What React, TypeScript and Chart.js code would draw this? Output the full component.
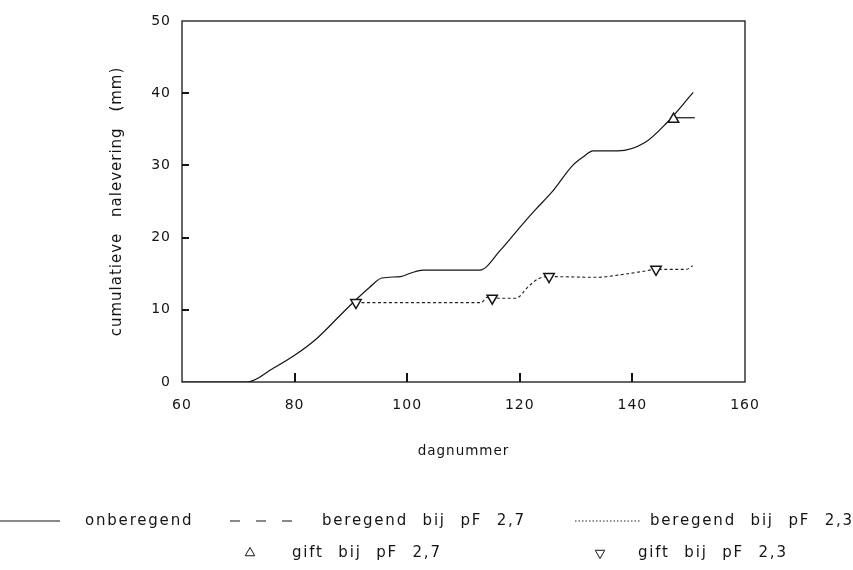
import { useEffect, useRef } from 'react';
import { Chart, registerables } from 'chart.js';
import { drawPoint } from 'chart.js/helpers';

Chart.register(...registerables);

// ---- data ----
const xTickStep = 20;
const yTickStep = 10;
const xMin = 60;
const xMax = 160;
const yMin = 0;
const yMax = 50;

const onberegendDag = [60, 71.6, 76.2, 80.0, 83.9, 87.8, 90.9, 93.3, 95.5, 98.8, 100.7, 102.8, 112.9, 116.6, 120.2, 122.7, 125.8, 129.4, 131.3, 133.0, 137.4, 142.3, 146.0, 150.8];
const onberegendMm = [0, 0, 1.9, 3.7, 6.0, 9.0, 11.4, 13.1, 14.4, 14.6, 15.1, 15.5, 15.5, 18.3, 21.6, 23.8, 26.4, 30.0, 31.2, 32.0, 32.0, 33.2, 35.8, 40.1];

const pF27Dag = [147.3, 151.1];
const pF27Mm = [36.6, 36.6];

const pF23Dag = [90.9, 113.2, 114.1, 115.1, 119.3, 121.5, 123.3, 125.2, 133.7, 137.4, 141.7, 144.2, 149.6, 150.7];
const pF23Mm = [11.0, 11.0, 11.7, 11.6, 11.6, 13.2, 14.3, 14.6, 14.5, 14.8, 15.3, 15.6, 15.6, 16.1];

const gift27Dag = [147.3];
const gift27Mm = [36.4];
const gift23Dag = [90.9, 115.1, 125.2, 144.2];
const gift23Mm = [11.0, 11.6, 14.6, 15.6];

const seriesLabels = ['onberegend', 'beregend bij pF 2,7', 'beregend bij pF 2,3', 'gift bij pF 2,7', 'gift bij pF 2,3'];
const xTitle = 'dagnummer';
const yTitle = 'cumulatieve nalevering (mm)';

const pts = (xs: number[], ys: number[]) => xs.map((x, i) => ({ x, y: ys[i] }));

const INK = '#141414';
const FONT = 'DejaVu Sans';

// legend layout (drawn below the plot, two rows)
const legendLayout = [
  { ds: 0, kind: 'line', x0: 0, x1: 60, tx: 85, y: 521, dash: [] as number[] },
  { ds: 1, kind: 'line', x0: 230, x1: 292, tx: 322, y: 521, dash: [10, 16] },
  { ds: 2, kind: 'line', x0: 575, x1: 640, tx: 650, y: 521, dash: [1.5, 2] },
  { ds: 3, kind: 'point', cx: 250, tx: 292, y: 553, dash: [] as number[] },
  { ds: 4, kind: 'point', cx: 600, tx: 638, y: 553, dash: [] as number[] },
];

const decorPlugin = {
  id: 'decor',
  beforeDraw(chart: any) {
    const ctx = chart.ctx as any;
    ctx.letterSpacing = '1px';
    ctx.wordSpacing = '10px';
  },
  afterDraw(chart: any) {
    const ctx = chart.ctx as any;
    const { left, right, top, bottom } = chart.chartArea;
    ctx.save();
    ctx.setLineDash([]);
    ctx.strokeStyle = INK;
    ctx.lineWidth = 1.3;
    ctx.strokeRect(left, top, right - left, bottom - top);
    ctx.restore();

    // inward tick marks, as thin filled rectangles
    ctx.save();
    ctx.fillStyle = INK;
    const xs = chart.scales.x;
    for (let v = xMin + xTickStep; v < xMax; v += xTickStep) {
      const px = Math.round(xs.getPixelForValue(v));
      ctx.fillRect(px - 1, bottom - 9, 2, 9);
    }
    const ys = chart.scales.y;
    for (let v = yMin + yTickStep; v < yMax; v += yTickStep) {
      const py = Math.round(ys.getPixelForValue(v));
      ctx.fillRect(left, py - 1, 7, 2);
    }
    ctx.restore();

    // legend
    ctx.save();
    ctx.letterSpacing = '1.8px';
    ctx.wordSpacing = '8px';
    ctx.font = `15px "${FONT}"`;
    ctx.fillStyle = INK;
    ctx.textBaseline = 'middle';
    ctx.textAlign = 'left';
    legendLayout.forEach((item) => {
      const ds = chart.data.datasets[item.ds];
      if (item.kind === 'line') {
        ctx.save();
        ctx.strokeStyle = ds.borderColor;
        ctx.lineWidth = 1.1;
        ctx.setLineDash(item.dash);
        ctx.beginPath();
        ctx.moveTo(item.x0, item.y);
        ctx.lineTo(item.x1, item.y);
        ctx.stroke();
        ctx.restore();
      } else {
        ctx.save();
        ctx.strokeStyle = ds.borderColor;
        ctx.fillStyle = '#ffffff';
        drawPoint(ctx, { pointStyle: 'triangle', radius: 5.5, rotation: ds.rotation || 0, borderWidth: 1 } as any, item.cx as number, item.y);
        ctx.restore();
      }
      ctx.fillText(ds.label, item.tx as number, item.y);
    });
    ctx.restore();
    ctx.letterSpacing = '0px';
    ctx.wordSpacing = '0px';
  },
};

export default function App() {
  const ref = useRef<HTMLCanvasElement>(null);
  useEffect(() => {
    const canvas = ref.current!;
    const chart = new Chart(canvas, {
      type: 'line',
      data: {
        datasets: [
          {
            label: seriesLabels[0],
            data: pts(onberegendDag, onberegendMm),
            borderColor: INK,
            borderWidth: 1.2,
            pointRadius: 0,
            cubicInterpolationMode: 'monotone',
            order: 1,
          },
          {
            label: seriesLabels[1],
            data: pts(pF27Dag, pF27Mm),
            borderColor: INK,
            borderWidth: 1.2,
            pointRadius: 0,
            order: 1,
          },
          {
            label: seriesLabels[2],
            data: pts(pF23Dag, pF23Mm),
            borderColor: '#222222',
            borderWidth: 1.1,
            borderDash: [3, 2.5],
            pointRadius: 0,
            cubicInterpolationMode: 'monotone',
            order: 1,
          },
          {
            label: seriesLabels[3],
            data: pts(gift27Dag, gift27Mm),
            showLine: false,
            borderColor: INK,
            backgroundColor: '#ffffff',
            pointStyle: 'triangle',
            pointRadius: 6,
            pointBorderWidth: 1.5,
            order: 0,
          },
          {
            label: seriesLabels[4],
            data: pts(gift23Dag, gift23Mm),
            showLine: false,
            borderColor: INK,
            backgroundColor: '#ffffff',
            pointStyle: 'triangle',
            rotation: 180,
            pointRotation: 180,
            pointRadius: 6,
            pointBorderWidth: 1.5,
            order: 0,
          } as any,
        ],
      },
      options: {
        animation: false,
        responsive: false,
        devicePixelRatio: 1,
        events: [],
        layout: { padding: { left: 0, top: 21, right: 108, bottom: 98 } },
        plugins: { legend: { display: false }, tooltip: { enabled: false } },
        scales: {
          x: {
            type: 'linear',
            min: xMin,
            max: xMax,
            grid: { display: false, drawTicks: false },
            border: { display: false },
            ticks: { stepSize: xTickStep, padding: 15, color: INK, font: { family: FONT, size: 14 }, maxRotation: 0 },
            title: { display: true, text: xTitle, color: INK, font: { family: FONT, size: 13.5 }, padding: { top: 0, bottom: 12 } },
            afterFit: (s: any) => { s.height = 90; },
          },
          y: {
            type: 'linear',
            min: yMin,
            max: yMax,
            grid: { display: false, drawTicks: false },
            border: { display: false },
            ticks: { stepSize: yTickStep, padding: 11, color: INK, font: { family: FONT, size: 14 } },
            title: { display: true, text: yTitle, color: INK, font: { family: FONT, size: 15 }, padding: { top: 108, bottom: 0 } },
            afterFit: (s: any) => { s.width = 182; },
          },
        },
      } as any,
      plugins: [decorPlugin],
    });
    return () => chart.destroy();
  }, []);
  return (
    <div style={{ position: 'absolute', left: 0, top: 0, width: 853, height: 570, background: '#ffffff' }}>
      <canvas ref={ref} width={853} height={570} style={{ display: 'block' }} />
    </div>
  );
}
